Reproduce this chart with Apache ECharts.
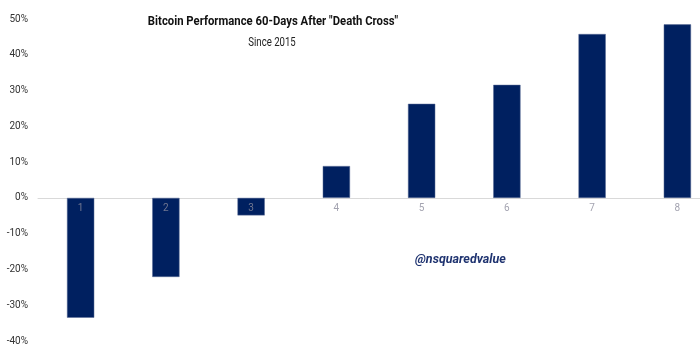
<!DOCTYPE html>
<html>
<head>
<meta charset="utf-8">
<script src="https://cdn.jsdelivr.net/npm/echarts@6/dist/echarts.min.js"></script>
<style>
html, body { margin: 0; padding: 0; background: #fff; }
#chart { width: 700px; height: 352px; }
</style>
</head>
<body>
<div id="chart"></div>
<script>
// 死叉后60天表现
var categories = ['1', '2', '3', '4', '5', '6', '7', '8'];
var perfValues = [-33.5, -22.1, -4.9, 8.9, 26.3, 31.6, 45.8, 48.5];
var yTicks = { min: -40, max: 50, step: 10 };

var chart = echarts.init(document.getElementById('chart'));

// 类别标签贴着0线
var zeroLabels = categories.map(function (c) {
    return [c, 0];
});

var option = {
    animation: false,
    grid: {
        left: 38,
        width: 682,
        top: 19,
        bottom: 11,
        outerBoundsMode: 'none',
        containLabel: false
    },
    xAxis: {
        type: 'category',
        data: categories,
        axisLine: {
            onZero: true,
            lineStyle: { color: '#d9d9d9', width: 1 }
        },
        axisTick: { show: false },
        axisLabel: { show: false }
    },
    yAxis: {
        type: 'value',
        min: yTicks.min,
        max: yTicks.max,
        interval: yTicks.step,
        axisLine: { show: false },
        axisTick: { show: false },
        splitLine: { show: false },
        axisLabel: {
            formatter: '{value}%',
            color: '#333',
            fontFamily: 'Roboto',
            fontSize: 10,
            margin: 10
        }
    },
    graphic: [{
        type: 'text',
        x: 273,
        y: 15,
        scaleX: 0.87,
        style: {
            text: 'Bitcoin Performance 60-Days After "Death Cross"',
            fontFamily: 'Roboto',
            fontSize: 13,
            fontWeight: 'bold',
            fill: '#111',
            textAlign: 'center'
        }
    }, {
        type: 'text',
        x: 272,
        y: 37,
        scaleX: 0.8,
        style: {
            text: 'Since 2015',
            fontFamily: 'Roboto',
            fontSize: 12,
            fill: '#222',
            textAlign: 'center'
        }
    }, {
        type: 'text',
        left: 415,
        top: 253,
        style: {
            text: '@nsquaredvalue',
            fontFamily: 'Roboto',
            fontSize: 12.5,
            fontWeight: 'bold',
            fontStyle: 'italic',
            fill: '#1f3370'
        }
    }],
    series: [{
        type: 'bar',
        data: perfValues,
        barWidth: '32%',
        itemStyle: {
            color: '#002060',
            borderColor: '#5a6d96',
            borderWidth: 0.5
        }
    }, {
        type: 'scatter',
        data: zeroLabels,
        symbolSize: 0,
        silent: true,
        z: 5,
        label: {
            show: true,
            position: 'bottom',
            distance: 6,
            formatter: function (p) { return p.value[0]; },
            color: '#8c8c9c',
            fontFamily: 'Roboto',
            fontSize: 10
        }
    }]
};

chart.setOption(option);
</script>
</body>
</html>
